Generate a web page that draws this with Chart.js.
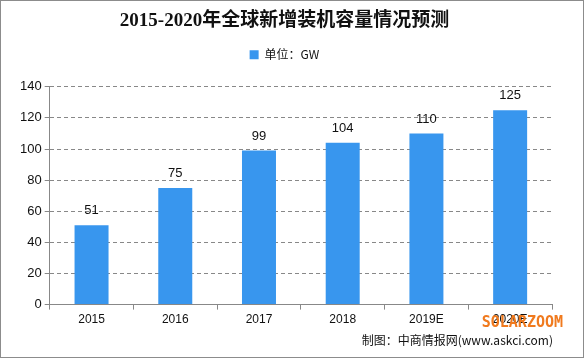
<!DOCTYPE html>
<html><head><meta charset="utf-8">
<script src="https://cdn.jsdelivr.net/npm/chart.js@4.4.0/dist/chart.umd.min.js"></script>
<style>
html,body{margin:0;padding:0;background:#fff;}
#wrap{width:582px;height:356px;border:1px solid #8c8c8c;position:relative;}
</style></head>
<body>
<div id="wrap"><canvas id="c" width="582" height="356"></canvas></div>
<script>
const categories = ['2015','2016','2017','2018','2019E','2020E'];
const values = [51, 75, 99, 104, 110, 125];
const yTicks = [0,20,40,60,80,100,120,140];
const seriesName = '单位：GW';
const titleText = '2015-2020年全球新增装机容量情况预测';

const labelPlugin = {
  id:'labels',
  afterDatasetsDraw(chart){
    const ctx = chart.ctx;
    const meta = chart.getDatasetMeta(0);
    ctx.save();
    ctx.font = '13px "Liberation Sans", Arial, sans-serif';
    ctx.fillStyle = '#111';
    ctx.textAlign = 'center';
    ctx.textBaseline = 'bottom';
    meta.data.forEach((b,i)=>{ ctx.fillText(String(values[i]), b.x, b.y - 8); });
    ctx.restore();
  },
  afterDraw(chart){
    const ctx = chart.ctx;
    ctx.save();
    ctx.textAlign='right';
    ctx.textBaseline='middle';
    ctx.font = 'bold 15px "DejaVu Sans Mono", monospace';
    ctx.fillStyle = '#f07a1e';
    ctx.fillText('SOLARZOOM', 562, 322);
    ctx.font = '12px "Noto Sans CJK SC", sans-serif';
    ctx.fillStyle = '#111';
    ctx.fillText('制图：中商情报网(www.askci.com)', 552, 339);
    ctx.restore();
  }
};

new Chart(document.getElementById('c'), {
  type:'bar',
  data:{ labels:categories, datasets:[{ label:seriesName, data:values, backgroundColor:'#3896ee', borderWidth:0, barPercentage:0.406, categoryPercentage:1.0 }]},
  options:{
    responsive:false, animation:false,
    layout:{ padding:{ left:16, right:31, top:0, bottom:27 } },
    plugins:{
      title:{ display:true, text:titleText, color:'#111', font:{ family:'"Liberation Serif", "Noto Sans CJK SC", serif', size:19, weight:'bold' }, padding:{ top:9, bottom:6 } },
      legend:{ display:true, labels:{ color:'#111', boxWidth:9, boxHeight:9, padding:10, font:{ family:'"Noto Sans CJK SC", sans-serif', size:12 } } },
      tooltip:{ enabled:false }
    },
    scales:{
      x:{ offset:true, grid:{ display:true, offset:true, drawOnChartArea:false, color:'#888', tickLength:5 }, border:{ color:'#888' }, ticks:{ color:'#111', font:{ family:'"Liberation Sans", Arial, sans-serif', size:12 }, padding:3 } },
      y:{ min:0, max:140, afterBuildTicks(a){ a.ticks = yTicks.map(v=>({value:v})); },
          grid:{ color:'#888', tickLength:5 }, border:{ color:'#888', dash:[4,3] }, ticks:{ color:'#111', font:{ family:'"Liberation Sans", Arial, sans-serif', size:13 }, padding:3 } }
    }
  },
  plugins:[labelPlugin, {
    id:'legendPad',
    beforeLayout(chart){
      const lg = chart.legend;
      if (lg && !lg._patched){
        const f = lg.fit.bind(lg);
        lg.fit = function(){ f(); this.height += 16; };
        lg._patched = true;
      }
    }
  }]
});
</script>
</body></html>
